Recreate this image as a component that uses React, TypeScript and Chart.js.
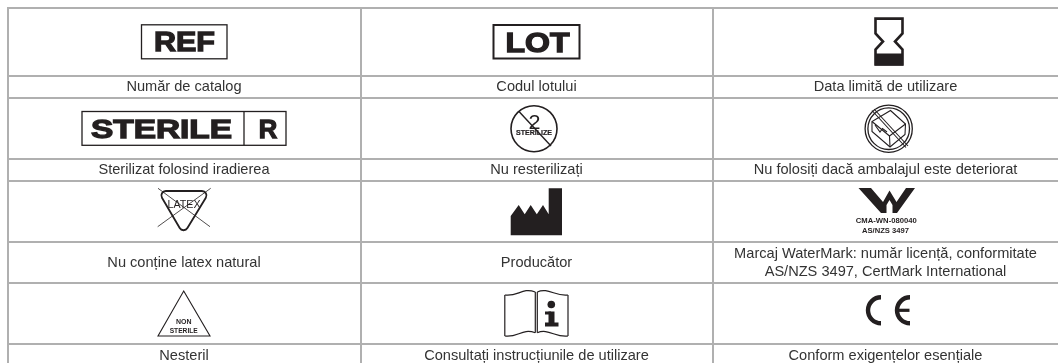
import React, { useEffect, useRef } from "react";
import { Chart, registerables } from "chart.js";

Chart.register(...registerables);

const columnEdges = [7.5, 360.5, 712.5];
const rowEdges = [7.5, 75.5, 97.7, 158.7, 181, 242, 283.3, 343.7];
const columnCenters = [184, 536.5, 885.5];
const labelRows = [86.7, 169.7, 262.8, 356];
const symbolRows = [41.5, 128.7, 212, 313.5];
const captions = [
  ["Număr de catalog", "Codul lotului", "Data limită de utilizare"],
  ["Sterilizat folosind iradierea", "Nu resterilizați", "Nu folosiți dacă ambalajul este deteriorat"],
  ["Nu conține latex natural", "Producător", "Marcaj WaterMark: număr licență, conformitate\nAS/NZS 3497, CertMark International"],
  ["Nesteril", "Consultați instrucțiunile de utilizare", "Conform exigențelor esențiale"],
];
const symbolNames = [
  ["REF", "LOT", "EXPIRY"],
  ["STERILE R", "NO RESTERILIZE", "DAMAGED"],
  ["LATEX", "FACTORY", "WATERMARK"],
  ["NON STERILE", "IFU", "CE"],
];

const INK = "#231f20";
const SANS = '"Liberation Sans", Arial, sans-serif';

type C = CanvasRenderingContext2D;

function stretched(c: C, s: string, cx: number, base: number, font: string, width: number, thick = 0) {
  c.save();
  c.font = font;
  const w = c.measureText(s).width;
  c.translate(cx, base);
  c.scale(width / w, 1);
  c.textAlign = "center";
  c.textBaseline = "alphabetic";
  c.fillStyle = INK;
  c.fillText(s, 0, 0);
  if (thick) {
    c.strokeStyle = INK;
    c.lineWidth = thick;
    c.lineJoin = "miter";
    c.strokeText(s, 0, 0);
  }
  c.restore();
}

function poly(c: C, pts: number[][], close = true) {
  c.beginPath();
  pts.forEach((p, i) => (i ? c.lineTo(p[0], p[1]) : c.moveTo(p[0], p[1])));
  if (close) c.closePath();
}

function seg(c: C, a: number, b: number, d: number, e: number, w: number) {
  c.lineWidth = w;
  c.beginPath();
  c.moveTo(a, b);
  c.lineTo(d, e);
  c.stroke();
}

const drawers: Record<string, (c: C) => void> = {
  REF(c) {
    c.lineWidth = 1.3;
    c.strokeRect(141.5, 24.8, 85.5, 34);
    stretched(c, "REF", 184.5, 50.5, `bold 27px ${SANS}`, 61, 1.3);
  },
  LOT(c) {
    c.lineWidth = 2;
    c.strokeRect(493.5, 25, 86, 33.5);
    stretched(c, "LOT", 537.5, 51.5, `bold 27px ${SANS}`, 64, 1.3);
  },
  EXPIRY(c) {
    c.lineWidth = 2.6;
    poly(c, [[875.5, 18.6], [902.5, 18.6], [902.5, 33.5], [895, 41.5], [902.5, 49.5], [902.5, 64.5], [875.5, 64.5], [875.5, 49.5], [883, 41.5], [875.5, 33.5]]);
    c.stroke();
    c.fillRect(875, 53.5, 28, 12);
  },
  "STERILE R"(c) {
    c.lineWidth = 1.3;
    c.strokeRect(82, 111.5, 204, 33.8);
    seg(c, 244, 111.5, 244, 145.3, 1.3);
    stretched(c, "STERILE", 161.5, 137.8, `bold 26px ${SANS}`, 141, 1.3);
    stretched(c, "R", 268, 137.8, `bold 26px ${SANS}`, 18.5, 1.3);
  },
  "NO RESTERILIZE"(c) {
    c.lineWidth = 1.6;
    c.beginPath();
    c.arc(534, 128.7, 23, 0, Math.PI * 2);
    c.stroke();
    seg(c, 519, 111.5, 551, 146, 1.4);
    stretched(c, "2", 534.5, 129, `20px ${SANS}`, 12);
    stretched(c, "STERILIZE", 534, 134.5, `bold 6.5px ${SANS}`, 36, 0.2);
  },
  DAMAGED(c) {
    c.lineWidth = 1.3;
    c.beginPath();
    c.arc(888.7, 128.7, 23.6, 0, Math.PI * 2);
    c.stroke();
    c.beginPath();
    c.arc(888.7, 128.7, 20.8, 0, Math.PI * 2);
    c.stroke();
    seg(c, 872, 110.5, 906, 147.5, 1.1);
    seg(c, 874, 109, 908, 146, 1.1);
    c.lineWidth = 1.1;
    poly(c, [[890.5, 110.5], [905.5, 124], [905, 134.5], [890, 147], [872, 131.5], [872, 121.5]]);
    c.stroke();
    poly(c, [[872, 121.5], [889.5, 136], [905.5, 124]], false);
    c.stroke();
    seg(c, 889.5, 136, 890, 147, 1.1);
    poly(c, [[875, 125], [880, 132], [882.5, 128.5], [887, 132]], false);
    c.stroke();
  },
  LATEX(c) {
    c.lineWidth = 1.8;
    c.beginPath();
    c.moveTo(183.5, 191);
    c.arcTo(210, 191, 183.5, 234.5, 4.5);
    c.arcTo(183.5, 234.5, 158, 191, 4.5);
    c.arcTo(158, 191, 183.5, 191, 4.5);
    c.closePath();
    c.stroke();
    seg(c, 158, 188.3, 210, 226.7, 0.8);
    seg(c, 210.7, 188.3, 157.7, 226.7, 0.8);
    stretched(c, "LATEX", 184, 208, `11.5px ${SANS}`, 33);
  },
  FACTORY(c) {
    poly(c, [[510.7, 216], [518.7, 205], [524.7, 214.3], [530.7, 205], [536.8, 214.3], [543, 205], [548.7, 214.3], [548.7, 188.3], [562, 188.3], [562, 235.3], [510.7, 235.3]]);
    c.fill();
  },
  WATERMARK(c) {
    poly(c, [[858.5, 188], [871, 188], [883, 202], [889.5, 190.5], [896.5, 202], [906, 188], [915, 188], [897, 213], [892.5, 213], [892.5, 205], [889.5, 200], [886.5, 205], [886.5, 213], [881, 213]]);
    c.fill();
    stretched(c, "CMA-WN-080040", 886.3, 222.8, `bold 6.5px ${SANS}`, 61);
    stretched(c, "AS/NZS 3497", 885.5, 232.5, `bold 6.5px ${SANS}`, 47);
  },
  "NON STERILE"(c) {
    c.lineWidth = 1.1;
    poly(c, [[183.7, 291], [210, 336], [158, 336]]);
    c.stroke();
    stretched(c, "NON", 183.7, 324.3, `bold 6.5px ${SANS}`, 15.5);
    stretched(c, "STERILE", 183.7, 333, `bold 6.5px ${SANS}`, 28);
  },
  IFU(c) {
    c.lineWidth = 1.2;
    for (const [y0, y1] of [[295, 292], [336, 332.8]]) {
      c.beginPath();
      c.moveTo(504.8, y0);
      c.bezierCurveTo(518, y0 + 2, 522, y1 - 5, 535.3, y1);
      c.moveTo(537.3, y1);
      c.bezierCurveTo(548, y1 - 5, 556, y0 + 2, 568, y0);
      c.stroke();
    }
    seg(c, 504.8, 295, 504.8, 336, 1.2);
    seg(c, 568, 295, 568, 336, 1.2);
    seg(c, 535.3, 292, 535.3, 332.8, 1.2);
    seg(c, 537.3, 292, 537.3, 332.8, 1.2);
    c.beginPath();
    c.arc(551.3, 304.5, 3.8, 0, Math.PI * 2);
    c.fill();
    c.fillRect(548.5, 311.5, 6, 12);
    c.fillRect(545, 311.5, 6, 3);
    c.fillRect(545, 322.5, 13.5, 4);
  },
  CE(c) {
    c.lineWidth = 4.4;
    c.lineCap = "butt";
    c.beginPath();
    c.arc(881, 310.3, 13, Math.PI * 0.5, Math.PI * 1.5);
    c.stroke();
    c.beginPath();
    c.arc(910, 310.3, 13, Math.PI * 0.5, Math.PI * 1.5);
    c.stroke();
    seg(c, 895, 310.3, 909.5, 310.3, 3.2);
  },
};

const tablePlugin = {
  id: "symbolTable",
  afterDraw(chart: any) {
    const c: C = chart.ctx;
    const x = chart.scales.x;
    const y = chart.scales.y;
    c.save();
    c.fillStyle = "#333333";
    c.font = `14.6px ${SANS}`;
    c.textAlign = "center";
    c.textBaseline = "middle";
    captions.forEach((row, r) =>
      row.forEach((text, k) => {
        const lines = text.split("\n");
        const py = y.getPixelForValue(labelRows[r]);
        const px = x.getPixelForValue(columnCenters[k]);
        lines.forEach((l, i) => c.fillText(l, px, py + (i - (lines.length - 1) / 2) * 17.6));
      })
    );
    c.restore();
    c.save();
    c.translate(x.getPixelForValue(0), y.getPixelForValue(0));
    c.fillStyle = INK;
    c.strokeStyle = INK;
    symbolNames.flat().forEach((n) => {
      c.save();
      drawers[n](c);
      c.restore();
    });
    c.restore();
  },
};

export default function App() {
  const ref = useRef<HTMLCanvasElement>(null);
  useEffect(() => {
    const chart = new Chart(ref.current!, {
      type: "scatter",
      data: {
        datasets: [
          {
            label: "symbols",
            data: symbolRows.flatMap((y) => columnCenters.map((x) => ({ x, y }))),
            pointRadius: 0,
          },
        ],
      },
      options: {
        animation: false,
        responsive: false,
        layout: { padding: { left: 7, top: 7, right: 0, bottom: 0 } },
        plugins: { legend: { display: false }, tooltip: { enabled: false } },
        scales: {
          x: {
            type: "linear",
            min: 7,
            max: 1058,
            border: { display: false },
            ticks: { display: false },
            grid: { color: "#b0b0b0", lineWidth: 2, drawTicks: false },
            afterBuildTicks: (s: any) => {
              s.ticks = columnEdges.map((value) => ({ value }));
            },
          },
          y: {
            type: "linear",
            min: 7,
            max: 363,
            reverse: true,
            border: { display: false },
            ticks: { display: false },
            grid: { color: "#b0b0b0", lineWidth: 2, drawTicks: false },
            afterBuildTicks: (s: any) => {
              s.ticks = rowEdges.map((value) => ({ value }));
            },
          },
        },
      },
      plugins: [tablePlugin],
    } as any);
    return () => chart.destroy();
  }, []);
  return (
    <div style={{ position: "absolute", left: 0, top: 0, width: 1058, height: 363, background: "#fff" }}>
      <canvas ref={ref} width={1058} height={363} style={{ display: "block" }} />
    </div>
  );
}
